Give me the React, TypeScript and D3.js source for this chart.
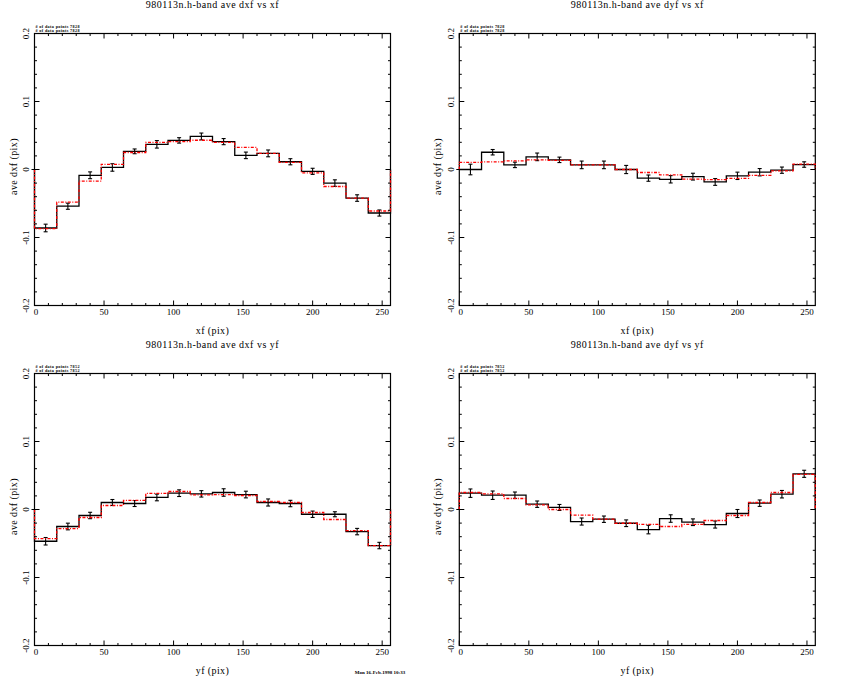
import React from 'react';
import * as d3 from 'd3';

// bin edges (pix) shared by every panel
const binEdges = [0, 16, 32, 48, 64, 80, 96, 112, 128, 144, 160, 176, 192, 208, 224, 240, 256];

// ave dxf vs xf
const dxfXfMeas = [-0.086, -0.054, -0.0085, 0.003, 0.0267, 0.037, 0.0428, 0.0486, 0.041, 0.0208, 0.0237, 0.0114, -0.0027, -0.02, -0.042, -0.064];
const dxfXfModel = [-0.087, -0.048, -0.017, 0.0076, 0.025, 0.04, 0.041, 0.043, 0.04, 0.0325, 0.0237, 0.0105, -0.005, -0.025, -0.042, -0.061];
const dxfXfErr = [0.0056, 0.0045, 0.005, 0.0055, 0.0035, 0.0055, 0.004, 0.005, 0.0045, 0.0048, 0.005, 0.0045, 0.0045, 0.0048, 0.0048, 0.0045];

// ave dyf vs xf
const dyfXfMeas = [0.0, 0.0254, 0.0068, 0.0186, 0.0142, 0.0068, 0.0068, 0.0, -0.0127, -0.0144, -0.0105, -0.0183, -0.0093, -0.004, -0.001, 0.0073];
const dyfXfModel = [0.0105, 0.0112, 0.0127, 0.0142, 0.0135, 0.0068, 0.0068, 0.0, -0.0044, -0.0078, -0.0141, -0.015, -0.013, -0.0085, -0.002, 0.0079];
const dyfXfErr = [0.0078, 0.004, 0.004, 0.0056, 0.004, 0.0056, 0.0056, 0.006, 0.0046, 0.0054, 0.005, 0.005, 0.0054, 0.0054, 0.0046, 0.004];

// ave dxf vs yf
const dxfYfMeas = [-0.0467, -0.025, -0.0088, 0.0103, 0.0088, 0.0177, 0.024, 0.023, 0.025, 0.022, 0.0103, 0.0088, -0.007, -0.007, -0.0325, -0.053];
const dxfYfModel = [-0.0427, -0.028, -0.0118, 0.0059, 0.0133, 0.0236, 0.0265, 0.0216, 0.022, 0.0206, 0.0118, 0.0103, -0.0044, -0.0147, -0.031, -0.053];
const dxfYfErr = [0.0055, 0.0049, 0.0047, 0.0044, 0.0044, 0.0049, 0.0049, 0.0047, 0.0055, 0.0049, 0.0052, 0.0047, 0.0047, 0.0037, 0.0047, 0.0047];

// ave dyf vs yf
const dyfYfMeas = [0.024, 0.021, 0.021, 0.0078, 0.003, -0.0177, -0.0143, -0.0202, -0.0295, -0.0133, -0.0187, -0.0221, -0.0059, 0.0093, 0.0225, 0.0525];
const dyfYfModel = [0.025, 0.023, 0.0162, 0.0068, 0.0, -0.0084, -0.0143, -0.0202, -0.022, -0.025, -0.022, -0.0162, -0.0088, 0.0103, 0.025, 0.0516];
const dyfYfErr = [0.0062, 0.0062, 0.0047, 0.0047, 0.0044, 0.0052, 0.0047, 0.0049, 0.0063, 0.0055, 0.0049, 0.0052, 0.0059, 0.0047, 0.0055, 0.0052];

const xMajor = [0, 50, 100, 150, 200, 250];
const xMinor = [10, 20, 30, 40, 60, 70, 80, 90, 110, 120, 130, 140, 160, 170, 180, 190, 210, 220, 230, 240];
const yMajor = [-0.2, -0.1, 0, 0.1, 0.2];
const yMinor = [-0.18, -0.16, -0.14, -0.12, -0.08, -0.06, -0.04, -0.02, 0.02, 0.04, 0.06, 0.08, 0.12, 0.14, 0.16, 0.18];
const yTickLabels = ['-0.2', '-0.1', '0', '0.1', '0.2'];

const W = 356;
const H = 272;
const FONT = '"Liberation Serif", "DejaVu Serif", serif';

const stepPoints = (vals: number[]) => {
  const pts: [number, number][] = [[binEdges[0], 0]];
  vals.forEach((v, i) => {
    pts.push([binEdges[i], v]);
    pts.push([binEdges[i + 1], v]);
  });
  pts.push([binEdges[binEdges.length - 1], 0]);
  return pts;
};

const Panel = ({ left, top, title, xlabel, ylabel, npts, meas, model, err }: any) => {
  const x = d3.scaleLinear().domain([0, 256]).range([0, W]);
  const y = d3.scaleLinear().domain([-0.2, 0.2]).range([H, 0]);
  const line = d3.line<[number, number]>().x(d => x(d[0])).y(d => y(d[1]));
  const centers = meas.map((_: number, i: number) => (binEdges[i] + binEdges[i + 1]) / 2);

  return (
    <g transform={`translate(${left},${top})`}>
      <text x={W / 2} y={-26} textAnchor="middle" fontSize={10} letterSpacing={0.5} fontFamily={FONT}>{title}</text>
      <text x={1} y={-6} fontSize={4.2} fontWeight="bold" letterSpacing={0.35} fontFamily={FONT}># of data points {npts}</text>
      <text x={1} y={-1.3} fontSize={4.2} fontWeight="bold" letterSpacing={0.35} fontFamily={FONT}># of data points {npts}</text>

      <path d={line(stepPoints(meas)) || ''} fill="none" stroke="#000" strokeWidth={1.3} />
      {centers.map((c: number, i: number) => (
        <g key={i} stroke="#000" strokeWidth={1.1}>
          <line x1={x(c)} x2={x(c)} y1={y(meas[i] - err[i])} y2={y(meas[i] + err[i])} />
          <line x1={x(c) - 2} x2={x(c) + 2} y1={y(meas[i] - err[i])} y2={y(meas[i] - err[i])} />
          <line x1={x(c) - 2} x2={x(c) + 2} y1={y(meas[i] + err[i])} y2={y(meas[i] + err[i])} />
        </g>
      ))}

      <rect x={0} y={0} width={W} height={H} fill="none" stroke="#000" strokeWidth={1.2} />
      <path d={line(stepPoints(model)) || ''} fill="none" stroke="#ff0000" strokeWidth={1.3} strokeDasharray="3 1.5 1 1.5" />

      <g stroke="#000" strokeWidth={1}>
        {xMajor.map(t => (
          <g key={'xm' + t}>
            <line x1={x(t)} x2={x(t)} y1={H} y2={H - 5} />
            <line x1={x(t)} x2={x(t)} y1={0} y2={5} />
          </g>
        ))}
        {xMinor.map(t => (
          <g key={'xn' + t}>
            <line x1={x(t)} x2={x(t)} y1={H} y2={H - 2.5} />
            <line x1={x(t)} x2={x(t)} y1={0} y2={2.5} />
          </g>
        ))}
        {yMajor.map(t => (
          <g key={'ym' + t}>
            <line x1={t === 0 ? -3 : 0} x2={5} y1={y(t)} y2={y(t)} />
            <line x1={W} x2={W - 5} y1={y(t)} y2={y(t)} />
          </g>
        ))}
        {yMinor.map(t => (
          <g key={'yn' + t}>
            <line x1={0} x2={2.5} y1={y(t)} y2={y(t)} />
            <line x1={W} x2={W - 2.5} y1={y(t)} y2={y(t)} />
          </g>
        ))}
      </g>

      {xMajor.map(t => (
        <text key={'xl' + t} x={x(t) + (t === 0 ? 1.5 : 0)} y={H + 9.5} textAnchor="middle" fontSize={9} fontFamily={FONT}>{t}</text>
      ))}
      {yMajor.map((t, i) => (
        <text key={'yl' + t} transform={`translate(-5.5,${y(t)}) rotate(-90)`} textAnchor="middle" fontSize={9} fontFamily={FONT}>{yTickLabels[i]}</text>
      ))}

      <text x={W / 2} y={H + 28.5} textAnchor="middle" fontSize={10} letterSpacing={0.4} fontFamily={FONT}>{xlabel}</text>
      <text transform={`translate(-18,${H / 2 - 3}) rotate(-90)`} textAnchor="middle" fontSize={10} letterSpacing={0.4} fontFamily={FONT}>{ylabel}</text>
    </g>
  );
};

export default function App() {
  return (
    <svg width={850} height={680} style={{ position: 'absolute', left: 0, top: 0, background: '#fff' }}>
      <rect width={850} height={680} fill="#fff" />
      <Panel left={34.5} top={33.5} title="980113n.h-band ave dxf vs xf" xlabel="xf (pix)" ylabel="ave dxf (pix)" npts="7828" meas={dxfXfMeas} model={dxfXfModel} err={dxfXfErr} />
      <Panel left={459.3} top={33.5} title="980113n.h-band ave dyf vs xf" xlabel="xf (pix)" ylabel="ave dyf (pix)" npts="7828" meas={dyfXfMeas} model={dyfXfModel} err={dyfXfErr} />
      <Panel left={34.5} top={373.5} title="980113n.h-band ave dxf vs yf" xlabel="yf (pix)" ylabel="ave dxf (pix)" npts="7852" meas={dxfYfMeas} model={dxfYfModel} err={dxfYfErr} />
      <Panel left={459.3} top={373.5} title="980113n.h-band ave dyf vs yf" xlabel="yf (pix)" ylabel="ave dyf (pix)" npts="7852" meas={dyfYfMeas} model={dyfYfModel} err={dyfYfErr} />
      <text x={380} y={674} textAnchor="middle" fontSize={5} fontWeight="bold" fontFamily={FONT}>Mon 16-Feb-1998 10:33</text>
    </svg>
  );
}
